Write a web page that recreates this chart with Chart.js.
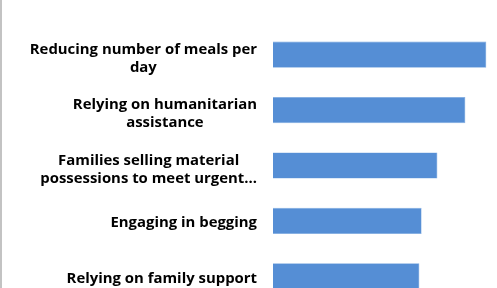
<!DOCTYPE html>
<html>
<head>
<meta charset="utf-8">
<script src="https://cdn.jsdelivr.net/npm/chart.js@4"></script>
<style>
  html, body { margin: 0; padding: 0; background: #fff; overflow: hidden; }
  body { width: 497px; height: 288px; position: relative; }
  #frame { position: absolute; left: 0; top: 0; width: 2px; height: 288px; background: #c3c3c3; }
  #wrap { position: absolute; left: 0; top: 0; width: 497px; height: 320px; }
</style>
</head>
<body>
<div id="wrap"><canvas id="chart"></canvas></div>
<div id="frame"></div>
<script>
// coping strategies
const categories = [
    ['Reducing number of meals per', 'day'],
    ['Relying on humanitarian', 'assistance'],
    ['Families selling material', 'possessions to meet urgent…'],
    ['Engaging in begging'],
    ['Relying on family support']
];
const shares = [58, 52.3, 44.7, 40.4, 39.8];

const LABEL_FONT = 'bold 14.9px "Open Sans", "Liberation Sans", sans-serif';
const LINE_H = 18;

// Excel-style category labels: block right aligned, lines centred inside it
const labelPlugin = {
    id: 'blockLabels',
    afterDraw(chart) {
        const ctx = chart.ctx;
        const yScale = chart.scales.y;
        const right = chart.chartArea.left - 16;
        ctx.save();
        ctx.font = LABEL_FONT;
        ctx.fillStyle = '#000';
        ctx.textAlign = 'center';
        ctx.textBaseline = 'middle';
        categories.forEach((lines, i) => {
            const w = Math.max(...lines.map(l => ctx.measureText(l).width));
            const cx = right - w / 2;
            const cy = yScale.getPixelForValue(i) + (lines.length > 1 ? 4 : 2);
            const top = cy - (lines.length - 1) * LINE_H / 2;
            lines.forEach((l, j) => ctx.fillText(l, cx, top + j * LINE_H));
        });
        ctx.restore();
    }
};

new Chart(document.getElementById('chart'), {
    type: 'bar',
    data: {
        labels: categories,
        datasets: [{
            data: shares,
            backgroundColor: '#558ed5',
            borderColor: '#7aa7df',
            borderWidth: 0.6,
            barPercentage: 0.473,
            categoryPercentage: 1
        }]
    },
    options: {
        indexAxis: 'y',
        responsive: true,
        maintainAspectRatio: false,
        animation: false,
        layout: { padding: { top: 27, bottom: 16, right: 7, left: 0 } },
        plugins: { legend: { display: false }, tooltip: { enabled: false } },
        scales: {
            x: { display: false, min: 0, max: 59 },
            y: {
                ticks: { display: false },
                grid: { display: false },
                border: { display: false },
                afterFit: (s) => { s.width = 273; }
            }
        }
    },
    plugins: [labelPlugin]
});
</script>
</body>
</html>
